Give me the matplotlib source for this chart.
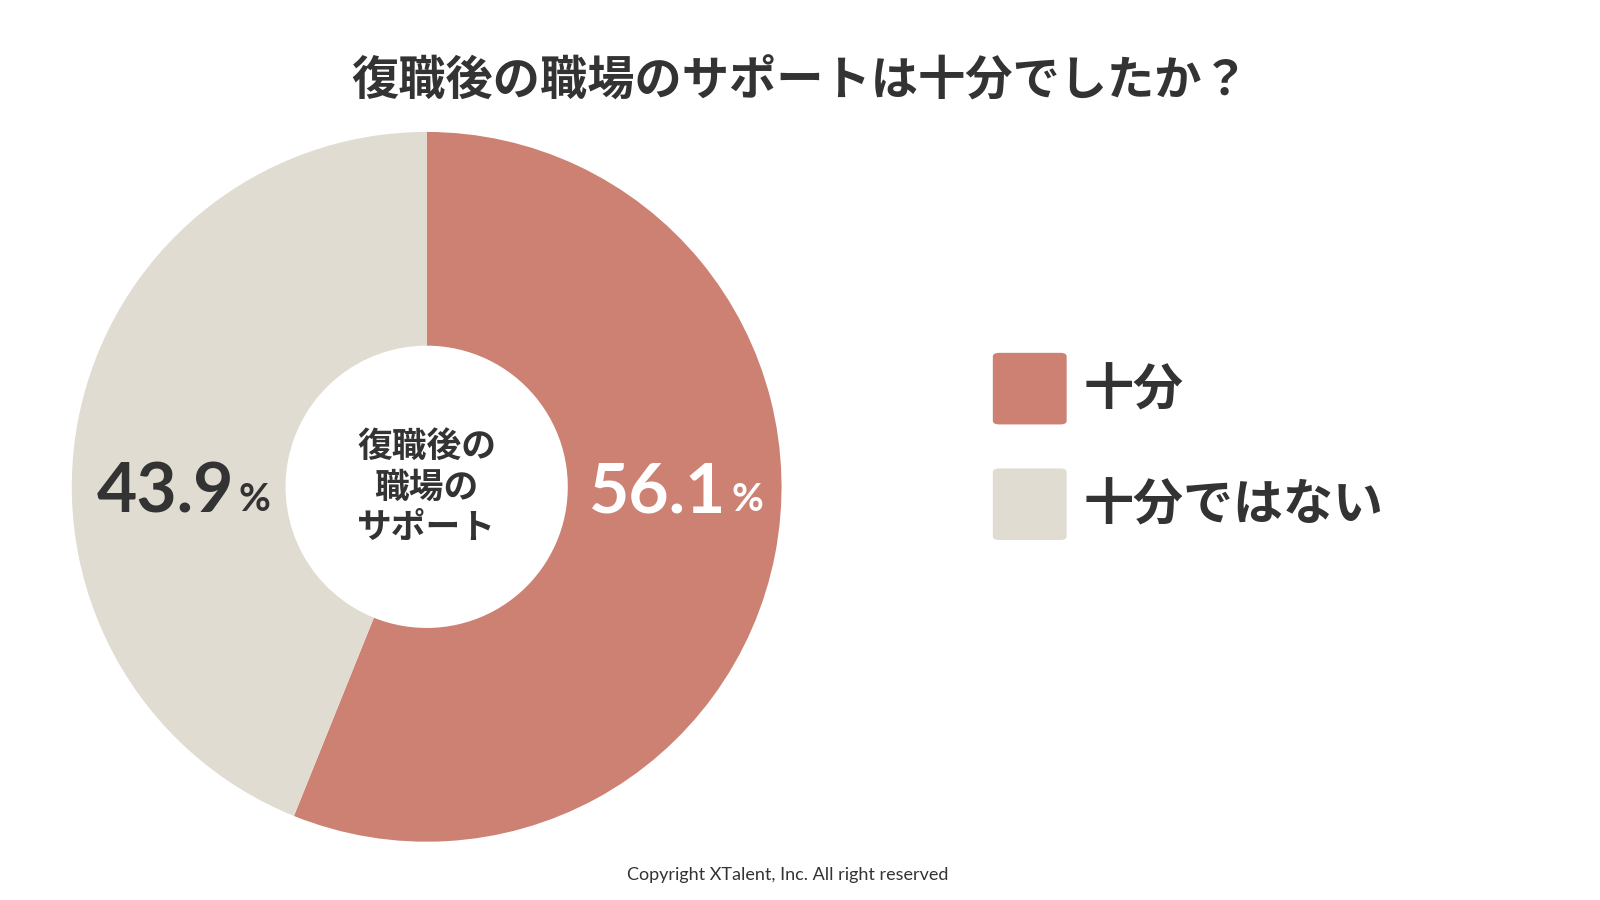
import matplotlib
matplotlib.use("Agg")
import matplotlib.pyplot as plt
from matplotlib.patches import FancyBboxPatch

categories = ["十分", "十分ではない"]
values = [56.1, 43.9]
colors = ["#CD8173", "#E0DCD2"]
title = "復職後の職場のサポートは十分でしたか？"
center_label = "復職後の\n職場の\nサポート"

F = "Noto Sans CJK JP"
dark = "#333333"
fig = plt.figure(figsize=(16, 9), dpi=100)
W, H = 1560, 880
def fx(x): return x / W
def fy(y): return 1 - y / H

cx, cy, R = 416, 476, 347
ax = fig.add_axes([fx(cx - R), fy(cy + R), 2 * R / W, 2 * R / H])
ax.pie(values, colors=colors, startangle=90, counterclock=False,
       radius=1, wedgeprops=dict(width=1 - 138 / 347, linewidth=0))
ax.set_xlim(-1, 1); ax.set_ylim(-1, 1); ax.set_aspect("equal"); ax.axis("off")
ax.text(0, 0, center_label, ha="center", va="center", fontsize=25,
        fontfamily=F, fontweight="bold", color=dark, linespacing=1.2)

fig.text(0.5, fy(80), title, ha="center", va="center", fontsize=34,
         fontfamily=F, fontweight="bold", color=dark)

def pct(x, y, v, col):
    fig.text(fx(x), fy(y), f"{v}", ha="right", va="center", fontsize=50,
             fontfamily="Lato", fontweight="bold", color=col)
    fig.text(fx(x + 5), fy(y + 6), "%", ha="left", va="center", fontsize=28,
             fontfamily="Lato", fontweight="bold", color=col)
pct(228, 482, values[1], dark)
pct(708, 482, values[0], "white")

for i, (c, col) in enumerate(zip(categories, colors)):
    y0 = 345 + i * 113
    fig.patches.append(FancyBboxPatch((fx(968), fy(y0 + 70)), 72 / W, 70 / H,
                       boxstyle="round,pad=0,rounding_size=0.004",
                       transform=fig.transFigure, facecolor=col, edgecolor="none"))
    fig.text(fx(1056), fy(y0 + 37), c, ha="left", va="center", fontsize=36,
             fontfamily=F, fontweight="bold", color=dark)

fig.text(fx(768), fy(856), "Copyright XTalent, Inc. All right reserved",
         ha="center", va="center", fontsize=13, fontfamily="Lato", color=dark)
fig.savefig("out.png", dpi=100, facecolor="white")
